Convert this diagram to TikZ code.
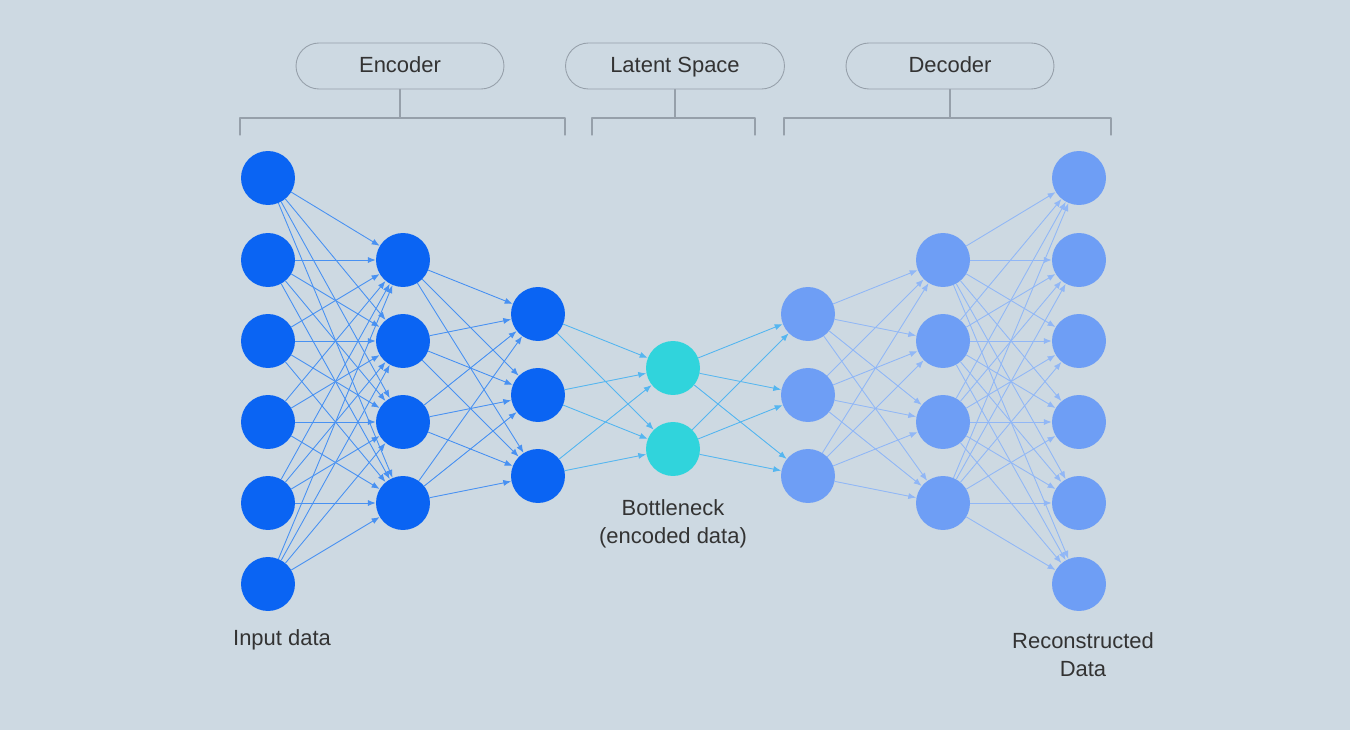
\documentclass[tikz,border=0pt]{standalone}
\usepackage{fontspec}
\setmainfont{Liberation Sans}
\usepackage{tikz}
\usetikzlibrary{arrows.meta, positioning, calc}
\definecolor{bgGray}{RGB}{205, 217, 226}
\definecolor{encBlue}{RGB}{10, 100, 243}
\definecolor{decBlue}{RGB}{110, 158, 245}
\definecolor{latCyan}{RGB}{48, 212, 220}
\definecolor{encEdge}{RGB}{72, 145, 242}
\definecolor{latEdge}{RGB}{85, 182, 240}
\definecolor{decEdge}{RGB}{145, 183, 246}
\definecolor{frameGray}{RGB}{150, 160, 170}
\tikzset{every node/.style={font=\fontsize{12.5}{16}\selectfont, text=black!80}, every path/.style={line cap=round, line join=round}, >={Latex[length=4.5pt, width=3.5pt]}}
\tikzset{
    neuron/.style={circle, minimum size=1.08cm, inner sep=0pt},
    encnode/.style={neuron, fill=encBlue},
    latnode/.style={neuron, fill=latCyan},
    decnode/.style={neuron, fill=decBlue},
    wire/.style={->, line width=0.5pt},
    pill/.style={draw=frameGray, line width=0.5pt, rounded corners=0.46cm, minimum width=4.16cm, minimum height=0.92cm, text height=1.6ex, text depth=0.3ex},
    bracket/.style={draw=frameGray, line width=0.6pt}
}

\begin{document}
\begin{tikzpicture}[x=0.02cm, y=-0.02cm]
    \fill [bgGray] (0,0) rectangle (1350,730);
    % layers
    \foreach \y [count=\i] in {178,260,341,422,503,584}
        \node [encnode] (in\i) at (268,\y) {};
    \foreach \y [count=\i] in {260,341,422,503}
        \node [encnode] (ea\i) at (403,\y) {};
    \foreach \y [count=\i] in {314,395,476}
        \node [encnode] (eb\i) at (538,\y) {};
    \foreach \y [count=\i] in {368,449}
        \node [latnode] (z\i) at (673,\y) {};
    \foreach \y [count=\i] in {314,395,476}
        \node [decnode] (da\i) at (808,\y) {};
    \foreach \y [count=\i] in {260,341,422,503}
        \node [decnode] (db\i) at (943,\y) {};
    \foreach \y [count=\i] in {178,260,341,422,503,584}
        \node [decnode] (out\i) at (1079,\y) {};
    % connections
    \foreach \i in {1,...,6}
        \foreach \j in {1,...,4}
            \draw [wire, encEdge] (in\i) -- (ea\j);
    \foreach \i in {1,...,4}
        \foreach \j in {1,...,3}
            \draw [wire, encEdge] (ea\i) -- (eb\j);
    \foreach \i in {1,...,3}
        \foreach \j in {1,2}
            \draw [wire, latEdge] (eb\i) -- (z\j);
    \foreach \i in {1,2}
        \foreach \j in {1,...,3}
            \draw [wire, latEdge] (z\i) -- (da\j);
    \foreach \i in {1,...,3}
        \foreach \j in {1,...,4}
            \draw [wire, decEdge] (da\i) -- (db\j);
    \foreach \i in {1,...,4}
        \foreach \j in {1,...,6}
            \draw [wire, decEdge] (db\i) -- (out\j);
    % section labels
    \node [pill] (encoder) at (400,66) {Encoder};
    \node [pill, minimum width=4.38cm] (latent) at (675,66) {Latent Space};
    \node [pill] (decoder) at (950,66) {Decoder};
    \coordinate (encL) at (240,118);
    \coordinate (encR) at (565,118);
    \coordinate (latL) at (592,118);
    \coordinate (latR) at (755,118);
    \coordinate (decL) at (784,118);
    \coordinate (decR) at (1111,118);
    \draw [bracket] ($(encL)+(0,17)$) -- (encL) -- (encR) -- ($(encR)+(0,17)$);
    \draw [bracket] ($(latL)+(0,17)$) -- (latL) -- (latR) -- ($(latR)+(0,17)$);
    \draw [bracket] ($(decL)+(0,17)$) -- (decL) -- (decR) -- ($(decR)+(0,17)$);
    \draw [bracket] (encoder.south) -- (encoder.south |- encL);
    \draw [bracket] (latent.south) -- (latent.south |- latL);
    \draw [bracket] (decoder.south) -- (decoder.south |- decL);
    % captions
    \node [align=center] (inputlbl) at (282,640) {Input data};
    \node [align=center] (bottlelbl) at (673,524) {Bottleneck\\(encoded data)};
    \node [align=center] (outputlbl) at (1083,655) {Reconstructed\\Data};
\end{tikzpicture}
\end{document}
